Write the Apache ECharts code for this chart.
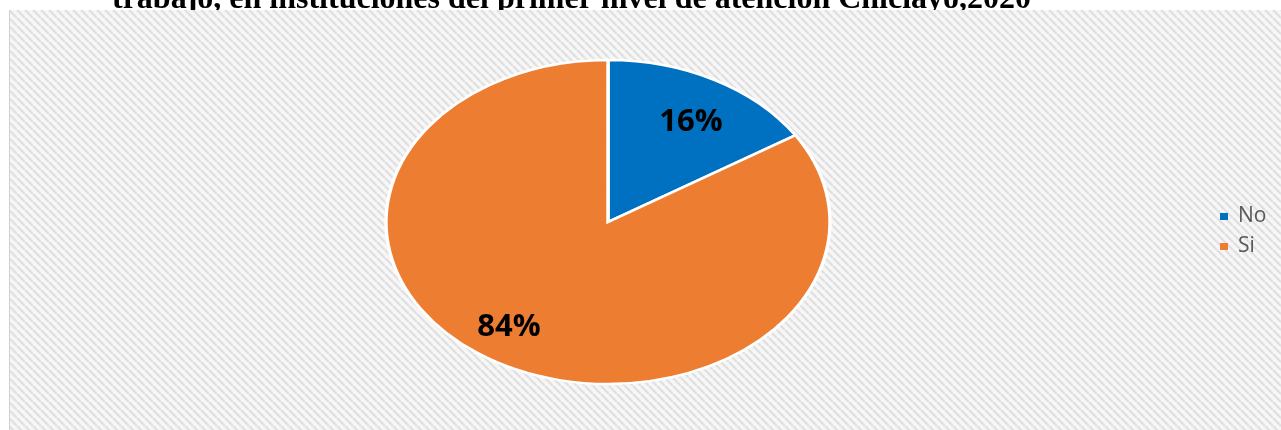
<!DOCTYPE html>
<html>
<head>
<meta charset="utf-8">
<script src="https://cdn.jsdelivr.net/npm/echarts@6/dist/echarts.min.js"></script>
<style>
html,body{margin:0;padding:0;background:#fff;}
#chart{width:1281px;height:430px;}
</style>
</head>
<body>
<div id="chart"></div>
<script>
// ---- data ----
const titleText = 'trabajo, en instituciones del primer nivel de atención Chiclayo,2020';
const categories = ['No', 'Si'];
const values = [16, 84];

// ---- layout / style ----
const colors = ['#0070C0', '#ED7D31'];
const CX = 608, CY = 222, RY = 162, RX = 222;
const labelRadius = 0.72;
const labelNudge = [[6, 2], [-22, 3]];

// hatch pattern tile
const tile = document.createElement('canvas');
const P = 8;
tile.width = P; tile.height = P;
const ctx = tile.getContext('2d');
ctx.fillStyle = '#f6f6f6';
ctx.fillRect(0, 0, P, P);
ctx.strokeStyle = '#dfdfdf';
ctx.lineWidth = 2.2;
for (let k = -1; k <= 1; k++) {
  ctx.beginPath();
  ctx.moveTo(k * P, 0);
  ctx.lineTo(k * P + P, P);
  ctx.stroke();
}

const total = values.reduce((a, b) => a + b, 0);
function before(i) { let s = 0; for (let j = 0; j < i; j++) s += values[j]; return s; }

const chart = echarts.init(document.getElementById('chart'));
chart.setOption({
  animation: false,
  backgroundColor: '#ffffff',
  title: {
    text: titleText,
    left: 107,
    top: -21,
    z: 0,
    textStyle: { fontFamily: '"Liberation Serif", "Times New Roman", serif', fontWeight: 'bold', fontSize: 32, color: '#000', lineHeight: 32 }
  },
  graphic: [
    { type: 'rect', z: 1, zlevel: 0, left: 9, top: 10, shape: { width: 1300, height: 440 }, style: { fill: { image: tile, repeat: 'repeat' } }, silent: true },
    { type: 'rect', z: 1, zlevel: 0, left: 9, top: 10, shape: { width: 1, height: 440 }, style: { fill: '#cfcfcf' }, silent: true }
  ],
  legend: {
    data: categories,
    orient: 'vertical',
    left: 1220,
    top: 206,
    padding: 0,
    icon: 'rect',
    itemWidth: 8,
    itemHeight: 7,
    itemGap: 9,
    textStyle: { fontFamily: '"Open Sans", sans-serif', fontSize: 21, color: '#595959', padding: [0, 0, 0, 5] }
  },
  series: categories.map((name, i) => ({
    type: 'custom',
    name: name,
    coordinateSystem: 'none',
    color: colors[i],
    z: 3,
    data: [values[i]],
    renderItem: function (params, api) {
      const v = api.value(0);
      const start = -Math.PI / 2 + before(i) / total * Math.PI * 2;
      const end = start + v / total * Math.PI * 2;
      const mid = (start + end) / 2;
      return {
        type: 'group',
        children: [
          {
            type: 'sector',
            shape: { cx: CX, cy: CY, r: RY, r0: 0, startAngle: start, endAngle: end, clockwise: true },
            scaleX: RX / RY, scaleY: 1, originX: CX, originY: CY,
            style: { fill: api.visual('color'), stroke: '#ffffff', lineWidth: 2.5, strokeNoScale: true }
          },
          {
            type: 'text',
            x: CX + Math.cos(mid) * labelRadius * RX + labelNudge[i][0],
            y: CY + Math.sin(mid) * labelRadius * RY + labelNudge[i][1],
            style: { text: v + '%', fill: '#000', font: 'bold 31px "Open Sans", sans-serif', align: 'center', verticalAlign: 'middle' }
          }
        ]
      };
    }
  }))
});
</script>
</body>
</html>
